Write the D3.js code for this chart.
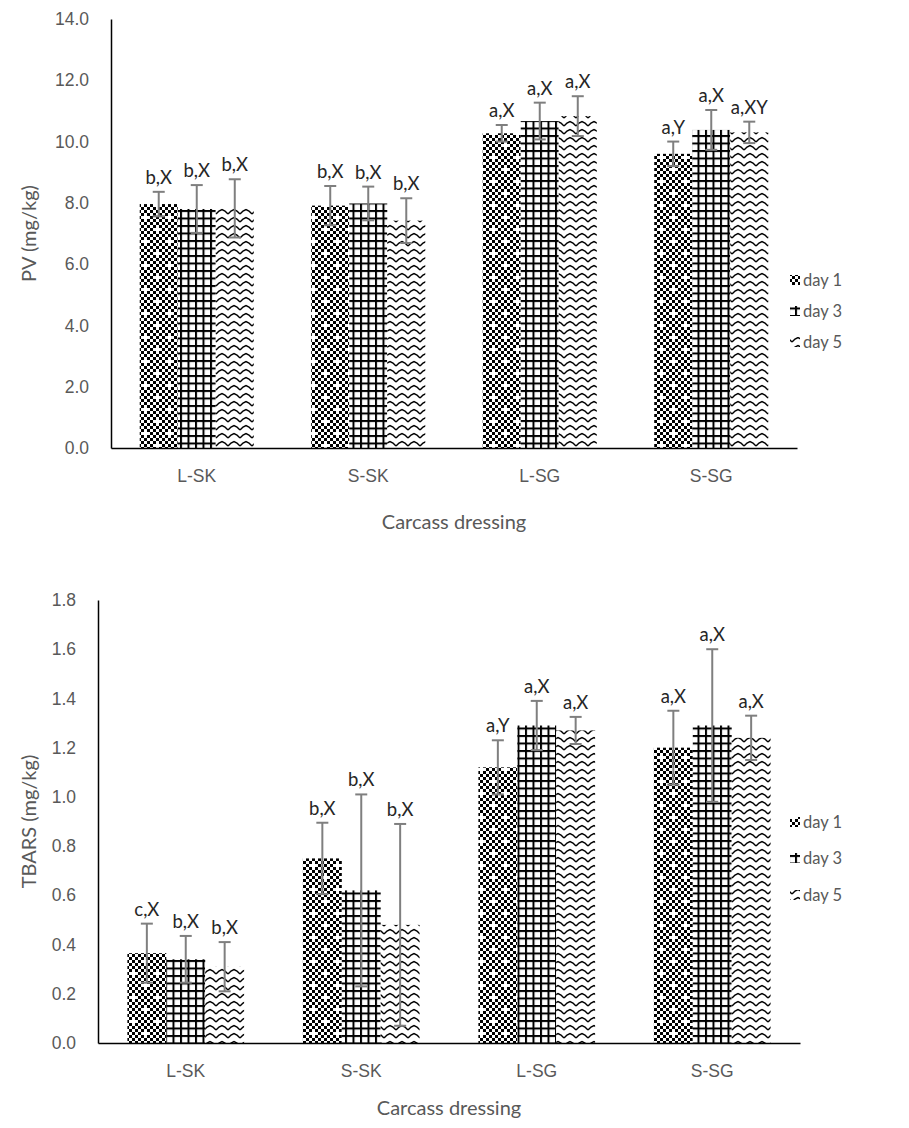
<!DOCTYPE html>
<html>
<head>
<meta charset="utf-8">
<script src="https://cdn.jsdelivr.net/npm/d3@7"></script>
<style>
  body { margin: 0; background: #fff; }
  svg { display: block; font-family: Lato, "Open Sans", sans-serif; }
</style>
</head>
<body>
<script>
// categories and series
var categories = ["L-SK", "S-SK", "L-SG", "S-SG"];
var series = ["day 1", "day 3", "day 5"];

// PV (mg/kg) values
var pvDay1 = [7.96, 7.91, 10.27, 9.6];
var pvDay3 = [7.8, 7.98, 10.67, 10.38];
var pvDay5 = [7.82, 7.42, 10.83, 10.3];
var pvErr1 = [0.4, 0.64, 0.27, 0.4];
var pvErr3 = [0.78, 0.55, 0.6, 0.65];
var pvErr5 = [0.95, 0.73, 0.65, 0.35];
var pvLab1 = ["b,X", "b,X", "a,X", "a,Y"];
var pvLab3 = ["b,X", "b,X", "a,X", "a,X"];
var pvLab5 = ["b,X", "b,X", "a,X", "a,XY"];
var pvTicks = [0, 2, 4, 6, 8, 10, 12, 14];

// TBARS (mg/kg) values
var tbDay1 = [0.365, 0.75, 1.12, 1.2];
var tbDay3 = [0.34, 0.62, 1.29, 1.29];
var tbDay5 = [0.31, 0.48, 1.27, 1.24];
var tbErr1 = [0.12, 0.145, 0.11, 0.15];
var tbErr3 = [0.095, 0.39, 0.1, 0.31];
var tbErr5 = [0.1, 0.41, 0.055, 0.09];
var tbLab1 = ["c,X", "b,X", "a,Y", "a,X"];
var tbLab3 = ["b,X", "b,X", "a,X", "a,X"];
var tbLab5 = ["b,X", "b,X", "a,X", "a,X"];
var tbTicks = [0, 0.2, 0.4, 0.6, 0.8, 1.0, 1.2, 1.4, 1.6, 1.8];

var svg = d3.select("body").append("svg")
  .attr("width", 909)
  .attr("height", 1128);

// patterns, one per day
var defs = svg.append("defs");

// day 1 : checker board with white spots
var p1 = defs.append("pattern").attr("id", "pat1")
  .attr("patternUnits", "userSpaceOnUse").attr("width", 24).attr("height", 24);
p1.append("rect").attr("width", 24).attr("height", 24).attr("fill", "#fff");
for (var i = 0; i < 8; i++) {
  for (var j = 0; j < 8; j++) {
    if ((i + j) % 2 === 0) {
      var white = (i === 4 && j === 4) || (i === 0 && j === 0);
      if (!white) p1.append("rect").attr("x", i * 3).attr("y", j * 3).attr("width", 3).attr("height", 3).attr("fill", "#000");
    }
  }
}

// day 3 : grid
var p3 = defs.append("pattern").attr("id", "pat3")
  .attr("patternUnits", "userSpaceOnUse").attr("width", 7.5).attr("height", 7.5);
p3.append("rect").attr("width", 7.5).attr("height", 7.5).attr("fill", "#fff");
p3.append("rect").attr("width", 2).attr("height", 7.5).attr("fill", "#000");
p3.append("rect").attr("width", 7.5).attr("height", 2).attr("fill", "#000");

// day 5 : waves
var p5 = defs.append("pattern").attr("id", "pat5")
  .attr("patternUnits", "userSpaceOnUse").attr("width", 12).attr("height", 8);
p5.append("rect").attr("width", 12).attr("height", 8).attr("fill", "#fff");
p5.append("path").attr("d", "M0,6 L3,3 L6,1.5 L9,3 L12,6")
  .attr("fill", "none").attr("stroke", "#000").attr("stroke-width", 1.5);

var fills = ["url(#pat1)", "url(#pat3)", "url(#pat5)"];

function drawChart(o) {
  var x = d3.scaleBand().domain(categories).range([o.left, o.right]).paddingInner(0.335).paddingOuter(0.1675);
  var xs = d3.scaleBand().domain(series).range([0, x.bandwidth()]);
  var y = d3.scaleLinear().domain([0, o.ticks[o.ticks.length - 1]]).range([o.bottom, o.top]);

  var g = svg.append("g");

  // y axis
  var ya = g.append("g").attr("transform", "translate(" + o.left + ",0)")
    .call(d3.axisLeft(y).tickValues(o.ticks).tickFormat(d3.format(".1f")).tickSize(0).tickPadding(22));
  ya.select(".domain").attr("stroke", "#000").attr("stroke-width", 1.5);
  ya.selectAll("text").attr("fill", "#595959").attr("font-size", 17.5);

  // bars
  o.values.forEach(function (vals, s) {
    g.selectAll(null).data(vals).enter().append("rect")
      .attr("x", function (d, i) { return x(categories[i]) + xs(series[s]); })
      .attr("y", function (d) { return y(d); })
      .attr("width", xs.bandwidth())
      .attr("height", function (d) { return o.bottom - y(d); })
      .attr("fill", fills[s]);
  });

  // x axis
  var xa = g.append("g").attr("transform", "translate(0," + o.bottom + ")")
    .call(d3.axisBottom(x).tickSize(0).tickPadding(22));
  xa.select(".domain").attr("stroke", "#000").attr("stroke-width", 1.5);
  xa.selectAll("text").attr("fill", "#595959").attr("font-size", 17.5);

  // error bars and labels
  o.values.forEach(function (vals, s) {
    vals.forEach(function (v, i) {
      var cx = x(categories[i]) + xs(series[s]) + xs.bandwidth() / 2;
      var e = o.errors[s][i];
      var eg = g.append("g").attr("stroke", "#7f7f7f").attr("stroke-width", 2);
      eg.append("line").attr("x1", cx).attr("x2", cx).attr("y1", y(v - e)).attr("y2", y(v + e));
      eg.append("line").attr("x1", cx - 6).attr("x2", cx + 6).attr("y1", y(v - e)).attr("y2", y(v - e));
      eg.append("line").attr("x1", cx - 6).attr("x2", cx + 6).attr("y1", y(v + e)).attr("y2", y(v + e));
      g.append("text").attr("x", cx).attr("y", y(v + e) - 8)
        .attr("text-anchor", "middle").attr("font-size", 18.5).attr("fill", "#262626")
        .text(o.labels[s][i]);
    });
  });

  // axis titles
  g.append("text").attr("x", (o.left + o.right) / 2).attr("y", o.xTitleY)
    .attr("text-anchor", "middle").attr("font-size", 20).attr("fill", "#595959")
    .text("Carcass dressing");
  g.append("text")
    .attr("transform", "translate(36," + (o.top + o.bottom) / 2 + ") rotate(-90)")
    .attr("text-anchor", "middle").attr("font-size", 20).attr("fill", "#595959")
    .text(o.yTitle);

  // legend
  series.forEach(function (s, k) {
    var ly = o.legendY[k];
    g.append("rect").attr("x", o.legendX).attr("y", ly - 5).attr("width", 10).attr("height", 10)
      .attr("fill", fills[k]);
    g.append("text").attr("x", o.legendX + 13).attr("y", ly).attr("dy", "0.35em")
      .attr("font-size", 16.5).attr("fill", "#595959").text(s);
  });
}

drawChart({
  left: 111, right: 797, top: 19, bottom: 448,
  ticks: pvTicks,
  values: [pvDay1, pvDay3, pvDay5],
  errors: [pvErr1, pvErr3, pvErr5],
  labels: [pvLab1, pvLab3, pvLab5],
  yTitle: "PV (mg/kg)",
  xTitleY: 529,
  legendX: 790, legendY: [280, 311, 342]
});

drawChart({
  left: 98, right: 800, top: 600, bottom: 1043,
  ticks: tbTicks,
  values: [tbDay1, tbDay3, tbDay5],
  errors: [tbErr1, tbErr3, tbErr5],
  labels: [tbLab1, tbLab3, tbLab5],
  yTitle: "TBARS (mg/kg)",
  xTitleY: 1115,
  legendX: 790, legendY: [822, 858, 895]
});
</script>
</body>
</html>
